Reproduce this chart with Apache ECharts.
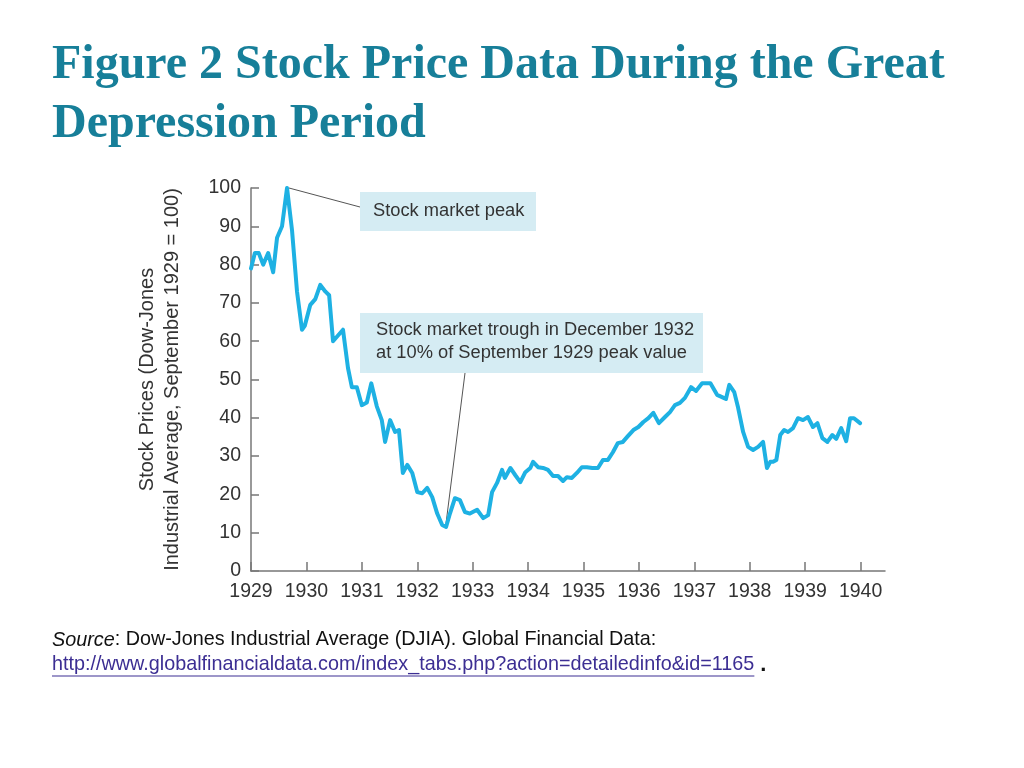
<!DOCTYPE html>
<html><head><meta charset="utf-8">
<script src="https://cdn.jsdelivr.net/npm/echarts@6/dist/echarts.min.js"></script>
<style>html,body{margin:0;padding:0;background:#fff}#c{width:1024px;height:768px}</style>
</head><body><div id="c"></div>
<script>
const titleLines = ['Figure 2 Stock Price Data During the Great', 'Depression Period'];
const yAxisName = 'Stock Prices (Dow-Jones\nIndustrial Average, September 1929 = 100)';
const peakNote = 'Stock market peak';
const troughNote = ['Stock market trough in December 1932', 'at 10% of September 1929 peak value'];
const sourceLine = 'Dow-Jones Industrial Average (DJIA). Global Financial Data:';
const sourceUrl = 'http://www.globalfinancialdata.com/index_tabs.php?action=detailedinfo&id=1165';

const xTicks = [1929,1930,1931,1932,1933,1934,1935,1936,1937,1938,1939,1940];

const years = [1929.00,1929.07,1929.14,1929.22,1929.31,1929.40,1929.47,1929.56,1929.65,1929.74,
1929.83,1929.92,1929.97,1930.07,1930.16,1930.25,1930.34,1930.41,1930.48,1930.57,
1930.66,1930.75,1930.82,1930.91,1931.00,1931.09,1931.17,1931.27,1931.36,1931.42,
1931.51,1931.60,1931.67,1931.74,1931.82,1931.91,1932.00,1932.09,1932.18,1932.27,
1932.36,1932.45,1932.52,1932.59,1932.68,1932.77,1932.86,1932.95,1933.08,1933.19,
1933.28,1933.35,1933.44,1933.53,1933.58,1933.68,1933.77,1933.86,1933.95,1934.04,
1934.09,1934.18,1934.27,1934.36,1934.45,1934.54,1934.63,1934.70,1934.79,1934.88,
1934.97,1935.06,1935.16,1935.26,1935.35,1935.44,1935.53,1935.62,1935.71,1935.80,
1935.90,1935.99,1936.08,1936.17,1936.26,1936.36,1936.47,1936.56,1936.65,1936.74,
1936.83,1936.94,1937.03,1937.14,1937.29,1937.41,1937.50,1937.57,1937.63,1937.72,
1937.79,1937.88,1937.97,1938.06,1938.15,1938.24,1938.31,1938.37,1938.42,1938.48,
1938.55,1938.62,1938.69,1938.78,1938.87,1938.96,1939.05,1939.14,1939.22,1939.31,
1939.40,1939.49,1939.56,1939.65,1939.74,1939.81,1939.88,1939.99];

const values = [79,83,83,80,83,78,87,90,100,89,
73,63,64,69.5,71,74.7,73,72,60,61.5,
63,53,48,48,43.3,44,49,43,39.4,33.7,
39.4,36.3,36.8,25.6,27.7,25.6,20.6,20.3,21.7,19.3,
15,12,11.5,15,19,18.5,15.4,15,16,13.8,
14.6,20.6,23,26.4,24.3,26.9,25,23.2,25.8,26.9,
28.5,27.1,26.9,26.4,24.8,24.8,23.5,24.5,24.3,25.6,
27.1,27.1,26.9,26.9,29,29,31,33.4,33.7,35.2,
36.8,37.6,38.9,39.9,41.3,38.6,40.2,41.5,43.3,43.9,
45.2,48,47,49,49,46,45.4,44.9,48.6,46.7,
42.6,36.3,32.4,31.6,32.4,33.7,26.9,28.5,28.5,29,
35.5,36.8,36.3,37.3,39.9,39.4,40.2,37.6,38.6,34.7,
33.7,35.5,34.5,37.3,33.9,39.9,39.9,38.6];

const seriesData = years.map((y, i) => [y, values[i]]);

const FONT = '"Liberation Sans", Arial, Helvetica, sans-serif';
const chart = echarts.init(document.getElementById('c'));

const option = {
  animation: false,
  backgroundColor: '#fff',
  title: {
    text: titleLines.join('\n'),
    left: 52, top: 36, padding: 0,
    textStyle: { fontFamily: '"Liberation Serif", "Times New Roman", serif', fontWeight: 'bold', fontSize: 48, lineHeight: 59, color: '#177f99' }
  },
  grid: { left: 251, top: 188, right: 139, bottom: 197, containLabel: false },
  xAxis: {
    type: 'value', min: 1929, max: 1940.44,
    axisLine: { lineStyle: { color: '#777', width: 1.5 } },
    axisTick: { inside: true, length: 9, customValues: xTicks, lineStyle: { color: '#777', width: 1.5 } },
    axisLabel: { customValues: xTicks, formatter: v => String(v), margin: 11, color: '#333', fontSize: 19.5, fontFamily: FONT },
    splitLine: { show: false }
  },
  yAxis: {
    type: 'value', min: 0, max: 100, interval: 10,
    name: yAxisName, nameLocation: 'middle', nameRotate: 90, nameGap: 66,
    nameTextStyle: { color: '#333', fontSize: 20, fontFamily: FONT, lineHeight: 25 },
    axisLine: { show: true, lineStyle: { color: '#777', width: 1.5 } },
    axisTick: { show: true, inside: true, length: 8, lineStyle: { color: '#777', width: 1.5 } },
    axisLabel: { margin: 10, color: '#333', fontSize: 19.5, fontFamily: FONT },
    splitLine: { show: false }
  },
  series: [{
    type: 'line', data: seriesData, symbol: 'none', smooth: false,
    lineStyle: { color: '#1eb1e3', width: 4, cap: 'round', join: 'round' },
    z: 3
  }]
};
chart.setOption(option);

const peakIdx = values.indexOf(Math.max(...values));
const troughIdx = values.indexOf(Math.min(...values));
const pk = chart.convertToPixel({ gridIndex: 0 }, [years[peakIdx], values[peakIdx]]);
const tr = chart.convertToPixel({ gridIndex: 0 }, [years[troughIdx], values[troughIdx]]);

const SRC_SIZE = 19.8;
const ctx = document.createElement('canvas').getContext('2d');
ctx.font = SRC_SIZE + 'px "Liberation Sans"';
const urlW = ctx.measureText(sourceUrl).width;

const boxFill = '#d5ecf3';
const noteStyle = { fill: '#333', fontSize: 18.3, fontFamily: FONT };
chart.setOption({
  graphic: [
    { type: 'line', z: 1, shape: { x1: pk[0] + 2, y1: pk[1], x2: 360, y2: 207 }, style: { stroke: '#555', lineWidth: 1 } },
    { type: 'line', z: 1, shape: { x1: 465, y1: 373, x2: tr[0], y2: tr[1] - 4 }, style: { stroke: '#555', lineWidth: 1 } },
    { type: 'rect', z: 2, shape: { x: 360, y: 192, width: 176, height: 39 }, style: { fill: boxFill } },
    { type: 'text', z: 3, x: 373, y: 211, style: Object.assign({ text: peakNote, verticalAlign: 'middle' }, noteStyle) },
    { type: 'rect', z: 2, shape: { x: 360, y: 313, width: 343, height: 60 }, style: { fill: boxFill } },
    { type: 'text', z: 3, x: 376, y: 330, style: Object.assign({ text: troughNote[0], verticalAlign: 'middle' }, noteStyle) },
    { type: 'text', z: 3, x: 376, y: 353, style: Object.assign({ text: troughNote[1], verticalAlign: 'middle' }, noteStyle) },
    { type: 'text', x: 52, y: 640, style: {
        text: '{i|Source}: ' + sourceLine, verticalAlign: 'middle', fill: '#111', fontSize: SRC_SIZE, fontFamily: FONT,
        rich: { i: { fontStyle: 'italic', fontSize: SRC_SIZE, fontFamily: FONT, fill: '#111' } } } },
    { type: 'text', x: 52, y: 665, style: { text: sourceUrl, verticalAlign: 'middle', fill: '#3c2e93', fontSize: SRC_SIZE, fontFamily: FONT } },
    { type: 'line', shape: { x1: 52, y1: 676, x2: 52 + urlW, y2: 676 }, style: { stroke: '#3c2e93', lineWidth: 1.2 } },
    { type: 'text', x: 52 + urlW + 6, y: 665, style: { text: '.', verticalAlign: 'middle', fill: '#111', fontSize: 22, fontWeight: 'bold', fontFamily: FONT } }
  ]
});
</script>
</body></html>
